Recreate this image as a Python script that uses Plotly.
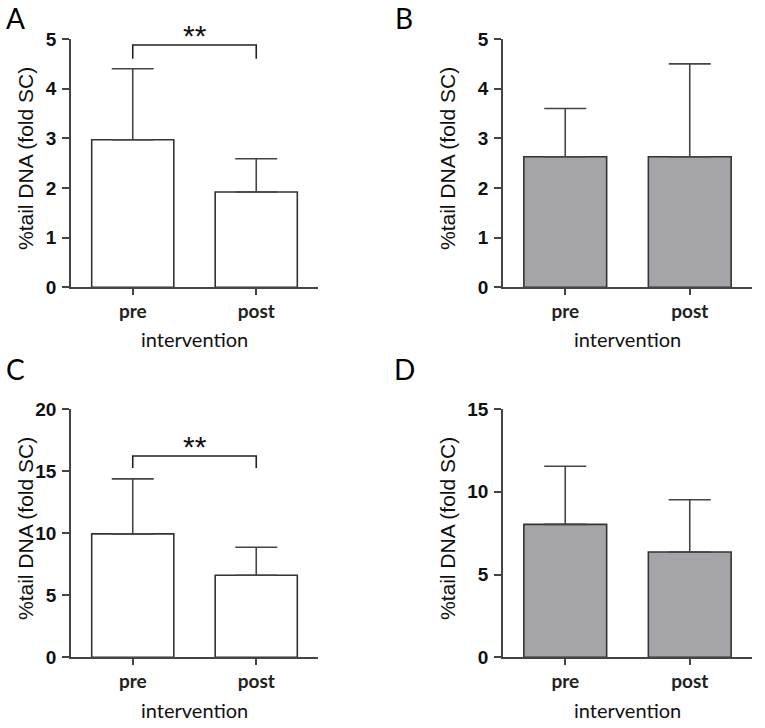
import plotly.graph_objects as go

W, H = 765, 728

categories = ["pre", "post"]
cat_pos = [0, 1]

# panel A
a_mean = [2.97, 1.92]
a_err = [1.43, 0.67]
# panel B
b_mean = [2.63, 2.63]
b_err = [0.97, 1.87]
# panel C
c_mean = [9.94, 6.61]
c_err = [4.43, 2.25]
# panel D
d_mean = [8.03, 6.36]
d_err = [3.51, 3.16]

y_max = [5, 5, 20, 15]
y_ticks = [[0, 1, 2, 3, 4, 5], [0, 1, 2, 3, 4, 5], [0, 5, 10, 15, 20], [0, 5, 10, 15]]

# significance brackets (panel A, C): [top level, leg bottom]
a_bracket = [4.88, 4.60]
c_bracket = [16.22, 15.25]

panel_labels = ["A", "B", "C", "D"]
y_title = "%tail DNA (fold SC)"
x_title = "intervention"

white = "#ffffff"
grey = "#a5a5a9"
line_c = "#333333"


def px(x):
    return x / W


def py(y):
    return 1 - y / H


x_dom = [[px(71), px(318)], [px(503), px(752)], [px(71), px(318)], [px(503), px(752)]]
y_dom = [[py(287.3), py(39)], [py(287.3), py(39)], [py(657.3), py(409)], [py(657.3), py(409)]]

means = [a_mean, b_mean, c_mean, d_mean]
errs = [a_err, b_err, c_err, d_err]
fills = [white, grey, white, grey]

fig = go.Figure()
layout = dict(
    template="none",
    width=W, height=H,
    margin=dict(l=0, r=0, t=0, b=0, pad=0, autoexpand=False),
    paper_bgcolor="white", plot_bgcolor="white",
    showlegend=False,
    annotations=[],
)

for i in range(4):
    sfx = "" if i == 0 else str(i + 1)
    xa = "x" + sfx
    ya = "y" + sfx
    fig.add_trace(go.Bar(
        x=cat_pos, y=means[i], width=0.665,
        marker=dict(color=fills[i], line=dict(color=line_c, width=1.6)),
        error_y=dict(type="data", array=errs[i], arrayminus=[0, 0], symmetric=False,
                     width=21, thickness=1.6, color="#444444"),
        xaxis=xa, yaxis=ya, hoverinfo="skip",
    ))
    layout["xaxis" + sfx] = dict(
        domain=x_dom[i], anchor=ya, range=[-0.5, 1.5], automargin=False,
        tickvals=cat_pos, ticktext=categories,
        showline=True, linecolor="#444444", linewidth=1.6,
        ticks="outside", ticklen=6, tickwidth=1.6, tickcolor="#444444",
        showgrid=False, zeroline=False,
        tickfont=dict(family="Lato", size=19, color="#222222", weight="bold"),
    )
    layout["yaxis" + sfx] = dict(
        domain=y_dom[i], anchor=xa, range=[0, y_max[i]], automargin=False,
        tickvals=y_ticks[i],
        showline=True, linecolor="#444444", linewidth=1.6,
        ticks="outside", ticklen=7, tickwidth=1.6, tickcolor="#444444",
        showgrid=False, zeroline=False,
        tickfont=dict(family="Liberation Sans", size=19, color="#111111", weight="bold"),
        ticklabelstandoff=2,
    )
    # y-axis title
    ytitle_x = [25, 447, 25, 447][i]
    ytitle_y = [159, 159, 529, 529][i]
    layout["annotations"].append(dict(
        text=y_title, textangle=-90, xref="paper", yref="paper",
        x=px(ytitle_x), y=py(ytitle_y), xanchor="center", yanchor="middle",
        showarrow=False, font=dict(family="Liberation Sans", size=21, color="#111111"),
    ))
    # x-axis title
    layout["annotations"].append(dict(
        text=x_title, xref=xa + " domain", yref="paper",
        x=0.5, y=py([339, 339, 710, 710][i]),
        xanchor="center", yanchor="middle", showarrow=False,
        font=dict(family="Lato", size=20, color="#111111"),
    ))
    # panel letter
    lx = [16, 404, 16, 404][i]
    if i < 2:
        layout["annotations"].append(dict(
            text=panel_labels[i], xref="paper", yref="paper", x=px(lx), y=1,
            xanchor="center", yanchor="top", showarrow=False, borderpad=0,
            font=dict(family="Lato", size=28, color="#000000"),
        ))
    else:
        layout["annotations"].append(dict(
            text=panel_labels[i], xref="paper", yref="paper", x=px(lx), y=py(369),
            xanchor="center", yanchor="middle", showarrow=False,
            font=dict(family="Lato", size=28, color="#000000"),
        ))

# significance brackets
for sfx, br in [("", a_bracket), ("3", c_bracket)]:
    fig.add_trace(go.Scatter(
        x=[cat_pos[0], cat_pos[0], cat_pos[1], cat_pos[1]],
        y=[br[1], br[0], br[0], br[1]],
        mode="lines", line=dict(color="#222222", width=1.6),
        xaxis="x" + sfx, yaxis="y" + sfx, hoverinfo="skip", cliponaxis=False,
    ))
    layout["annotations"].append(dict(
        text="**", xref="x" + sfx, yref="y" + sfx, x=0.5, y=br[0],
        xanchor="center", yanchor="bottom", yshift=-9, showarrow=False,
        font=dict(family="Liberation Sans", size=30, color="#111111"),
    ))

fig.update_layout(**layout)
# remove the default 8px page margin so the figure fills the window exactly
fig.write_html("out.html", config={"displayModeBar": False},
               post_script="document.body.style.margin='0';")
